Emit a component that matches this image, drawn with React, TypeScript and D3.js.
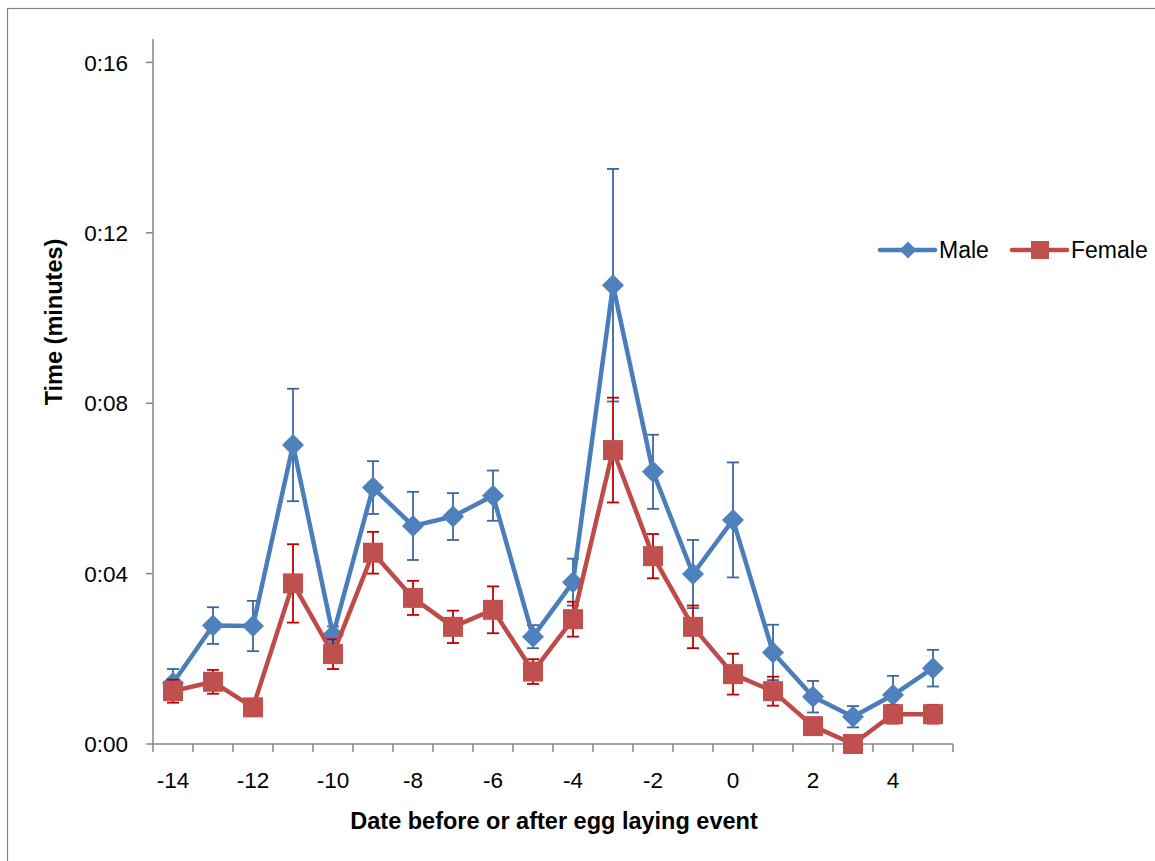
import React from "react";
import * as d3 from "d3";

// days relative to the egg laying event
const days = [-14, -13, -12, -11, -10, -9, -8, -7, -6, -5, -4, -3, -2, -1, 0, 1, 2, 3, 4, 5];
const xTickLabels = [-14, -12, -10, -8, -6, -4, -2, 0, 2, 4];

// values in seconds (axis shows m:ss)
const maleMean = [1.43, 2.78, 2.77, 7.02, 2.56, 6.02, 5.12, 5.34, 5.83, 2.52, 3.8, 10.77, 6.39, 3.99, 5.26, 2.15, 1.11, 0.64, 1.15, 1.78];
const maleErr = [0.33, 0.43, 0.59, 1.32, 0.2, 0.62, 0.8, 0.55, 0.59, 0.27, 0.55, 2.73, 0.87, 0.8, 1.35, 0.65, 0.37, 0.25, 0.45, 0.43];
const femaleMean = [1.24, 1.46, 0.86, 3.77, 2.11, 4.49, 3.43, 2.75, 3.15, 1.7, 2.93, 6.9, 4.41, 2.75, 1.64, 1.24, 0.42, 0.0, 0.7, 0.7];
const femaleErr = [0.27, 0.28, 0.1, 0.92, 0.35, 0.49, 0.4, 0.38, 0.55, 0.29, 0.41, 1.23, 0.52, 0.5, 0.48, 0.34, 0.1, 0.0, 0.22, 0.22];
const yTicks = [0, 4, 8, 12, 16];

const W = 1155;
const H = 861;
const FONT = "'Liberation Sans', Arial, sans-serif";
const AXIS = "#868686";

const series = [
  { name: "Male", mean: maleMean, err: maleErr, line: "#4A7EBB", marker: "#4F81BD", bar: "#3B679E", shape: "diamond" },
  { name: "Female", mean: femaleMean, err: femaleErr, line: "#BE4B48", marker: "#C0504D", bar: "#C00000", shape: "square" },
];

function fmt(v: number) {
  return "0:" + String(v).padStart(2, "0");
}

function Marker({ shape, x, y, size, fill }: any) {
  if (shape === "diamond") {
    const r = size / 2;
    return <path d={`M${x},${y - r}L${x + r},${y}L${x},${y + r}L${x - r},${y}Z`} fill={fill} />;
  }
  return <rect x={x - size / 2} y={y - size / 2} width={size} height={size} fill={fill} />;
}

export default function App() {
  const x = d3.scaleBand<number>().domain(days).range([153, 953]).paddingInner(0).paddingOuter(0);
  const y = d3.scaleLinear().domain([0, 16.55]).range([744, 39]);
  const cx = (d: number) => (x(d) as number) + x.bandwidth() / 2;

  const lineGen = d3
    .line<number>()
    .x((_, i) => cx(days[i]))
    .y((v) => y(v));

  const boundaries = days.map((d) => x(d) as number).concat([953]);

  return (
    <svg width={W} height={H} style={{ position: "absolute", left: 0, top: 0, background: "#fff" }}>
      <rect x={7.5} y={8.5} width={1300} height={1000} fill="none" stroke={AXIS} strokeWidth={1.2} />

      {/* y axis */}
      <line x1={153} x2={153} y1={39} y2={744} stroke={AXIS} strokeWidth={1.5} />
      {yTicks.map((t) => (
        <g key={t}>
          <line x1={146} x2={153} y1={y(t)} y2={y(t)} stroke={AXIS} strokeWidth={1.5} />
          <text x={128} y={y(t)} dy="0.36em" textAnchor="end" fontFamily={FONT} fontSize={22.5} fill="#000">
            {fmt(t)}
          </text>
        </g>
      ))}

      {/* x axis */}
      <line x1={153} x2={953} y1={744} y2={744} stroke={AXIS} strokeWidth={1.5} />
      {boundaries.map((b, i) => (
        <line key={i} x1={b} x2={b} y1={744} y2={752} stroke={AXIS} strokeWidth={1.5} />
      ))}
      {xTickLabels.map((t) => (
        <text key={t} x={cx(t)} y={780} dy="0.36em" textAnchor="middle" fontFamily={FONT} fontSize={22.5} fill="#000">
          {t}
        </text>
      ))}

      {/* series */}
      {series.map((s) => (
        <g key={s.name}>
          {s.mean.map((m, i) => {
            const e = s.err[i];
            if (!e) return null;
            const px = cx(days[i]);
            return (
              <g key={i} stroke={s.bar} strokeWidth={1.8}>
                <line x1={px} x2={px} y1={y(m + e)} y2={y(m - e)} />
                <line x1={px - 6} x2={px + 6} y1={y(m + e)} y2={y(m + e)} />
                <line x1={px - 6} x2={px + 6} y1={y(m - e)} y2={y(m - e)} />
              </g>
            );
          })}
          <path d={lineGen(s.mean) || ""} fill="none" stroke={s.line} strokeWidth={4.5} strokeLinejoin="round" strokeLinecap="round" />
          {s.mean.map((m, i) => (
            <Marker key={i} shape={s.shape} x={cx(days[i])} y={y(m)} size={s.shape === "diamond" ? 22 : 20} fill={s.marker} />
          ))}
        </g>
      ))}

      {/* axis titles */}
      <text x={554} y={829} textAnchor="middle" fontFamily={FONT} fontSize={23.5} fontWeight="bold" fill="#000">
        Date before or after egg laying event
      </text>
      <text transform="translate(54,322) rotate(-90)" dy="0.36em" textAnchor="middle" fontFamily={FONT} fontSize={23.5} fontWeight="bold" fill="#000">
        Time (minutes)
      </text>

      {/* legend */}
      {series.map((s, i) => {
        const lx = i === 0 ? 880 : 1012;
        return (
          <g key={s.name}>
            <line x1={lx} x2={lx + 55} y1={250} y2={250} stroke={s.line} strokeWidth={4.5} strokeLinecap="round" />
            <Marker shape={s.shape} x={lx + 28} y={250} size={s.shape === "diamond" ? 17 : 18} fill={s.marker} />
            <text x={lx + 59} y={250} dy="0.36em" fontFamily={FONT} fontSize={23} fill="#000">
              {s.name}
            </text>
          </g>
        );
      })}
    </svg>
  );
}
